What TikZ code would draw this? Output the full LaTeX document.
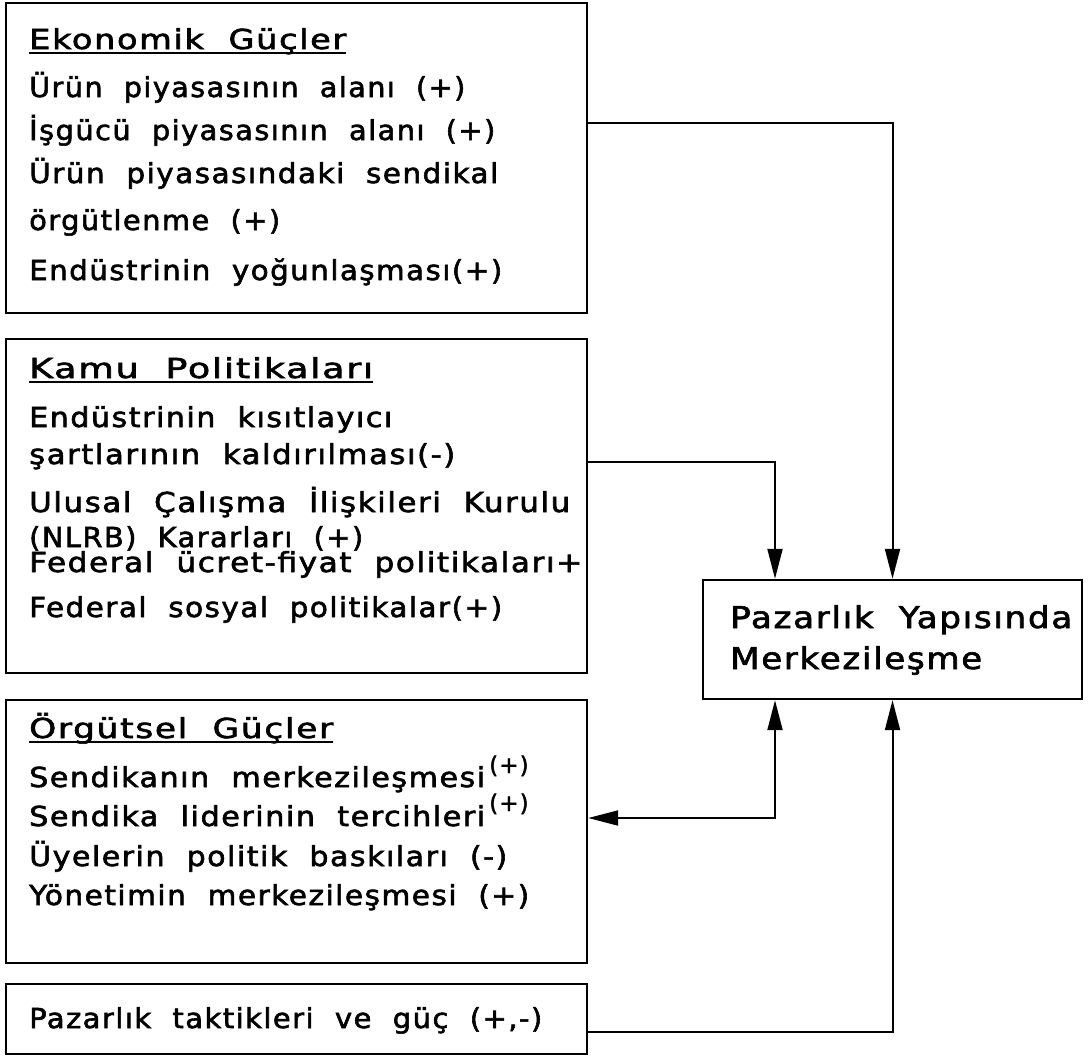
\documentclass[tikz,border=0pt]{standalone}
\usepackage{fontspec}
\setmainfont[WordSpace=2,LetterSpace=5,FakeBold=2]{DejaVu Sans}
\usetikzlibrary{arrows.meta}
\newcommand{\fitw}[2]{\resizebox{#1pt}{\height}{#2}}
\begin{document}
\begin{tikzpicture}[x=1pt,y=-1pt,
  box/.style={draw, line width=2.4pt, minimum width=581pt, inner sep=0pt},
  txt/.style={anchor=base west, inner sep=0pt, font=\fontsize{27.5}{32}\selectfont},
  sup/.style={anchor=base west, inner sep=0pt, font=\fontsize{23}{26}\selectfont},
  ptxt/.style={anchor=base west, inner sep=0pt, font=\fontsize{30}{34}\selectfont},
  arr/.style={line width=2pt, -{Triangle[length=30pt,width=15pt]}},
  uline/.style={line width=2pt}]
\useasboundingbox (0,0) rectangle (1092,1061);

% boxes
\node[box, minimum height=310pt] (b1) at (296.5,158) {};
\node[box, minimum height=334pt] (b2) at (296.5,506) {};
\node[box, minimum height=263pt] (b3) at (296.5,831.5) {};
\node[box, minimum height=70pt] (b4) at (296.5,1019) {};
\node[box, minimum width=379pt, minimum height=119pt] (pz) at (892.5,639.5) {};

% box 1
\node[txt] (h1) at (29,49) {\fitw{317}{Ekonomik Güçler}};
\draw[uline] ([yshift=-4pt]h1.base west) -- ([yshift=-4pt]h1.base east);
\node[txt] (e1) at (29,97) {\fitw{436}{Ürün piyasasının alanı (+)}};
\node[txt] (e2) at (29,140) {\fitw{466}{İşgücü piyasasının alanı (+)}};
\node[txt] (e3) at (29,183) {\fitw{469}{Ürün piyasasındaki sendikal}};
\node[txt] (e4) at (29,230) {\fitw{251}{örgütlenme (+)}};
\node[txt] (e5) at (29,280) {\fitw{473}{Endüstrinin yoğunlaşması(+)}};

% box 2
\node[txt] (h2) at (29,378) {\fitw{344}{Kamu Politikaları}};
\draw[uline] ([yshift=-4pt]h2.base west) -- ([yshift=-4pt]h2.base east);
\node[txt] (k1) at (29,427) {\fitw{363}{Endüstrinin kısıtlayıcı}};
\node[txt] (k2) at (29,464) {\fitw{426}{şartlarının kaldırılması(-)}};
\node[txt] (k3) at (29,512) {\fitw{541}{Ulusal Çalışma İlişkileri Kurulu}};
\node[txt] (k4) at (29,547) {\fitw{334}{(NLRB) Kararları (+)}};
\node[txt] (k5) at (29,572) {\fitw{553}{Federal ücret-fiyat politikaları+}};
\node[txt] (k6) at (29,617) {\fitw{473}{Federal sosyal politikalar(+)}};

% box 3
\node[txt] (h3) at (29,738) {\fitw{304}{Örgütsel Güçler}};
\draw[uline] ([yshift=-4pt]h3.base west) -- ([yshift=-4pt]h3.base east);
\node[txt] (o1) at (29,787) {\fitw{456}{Sendikanın merkezileşmesi}};
\node[sup] (s1) at (489,773) {(+)};
\node[txt] (o2) at (29,826) {\fitw{456}{Sendika liderinin tercihleri}};
\node[sup] (s2) at (489,811) {(+)};
\node[txt] (o3) at (29,866) {\fitw{478}{Üyelerin politik baskıları (-)}};
\node[txt] (o4) at (29,905) {\fitw{500}{Yönetimin merkezileşmesi (+)}};

% box 4
\node[txt] (t1) at (29,1028) {\fitw{513}{Pazarlık taktikleri ve güç (+,-)}};

% central box text
\node[ptxt] (p1) at (730,628) {\fitw{342}{Pazarlık Yapısında}};
\node[ptxt] (p2) at (730,669) {\fitw{252}{Merkezileşme}};

% connector corners
\coordinate (c1) at (892.5,123);
\coordinate (c2) at (775,462);
\coordinate (c3) at (775,818);
\coordinate (c4) at (892.5,1032);

\draw[arr] (b1.east |- c1) -- (c1) -- (pz.north);
\draw[arr] (b2.east |- c2) -- (c2) -- (c2 |- pz.north);
\draw[line width=2pt, {Triangle[length=30pt,width=15pt]}-{Triangle[length=30pt,width=15pt]}] (c3 |- pz.south) -- (c3) -- (b3.east |- c3);
\draw[arr] (b4.east |- c4) -- (c4) -- (pz.south);
\end{tikzpicture}
\end{document}
